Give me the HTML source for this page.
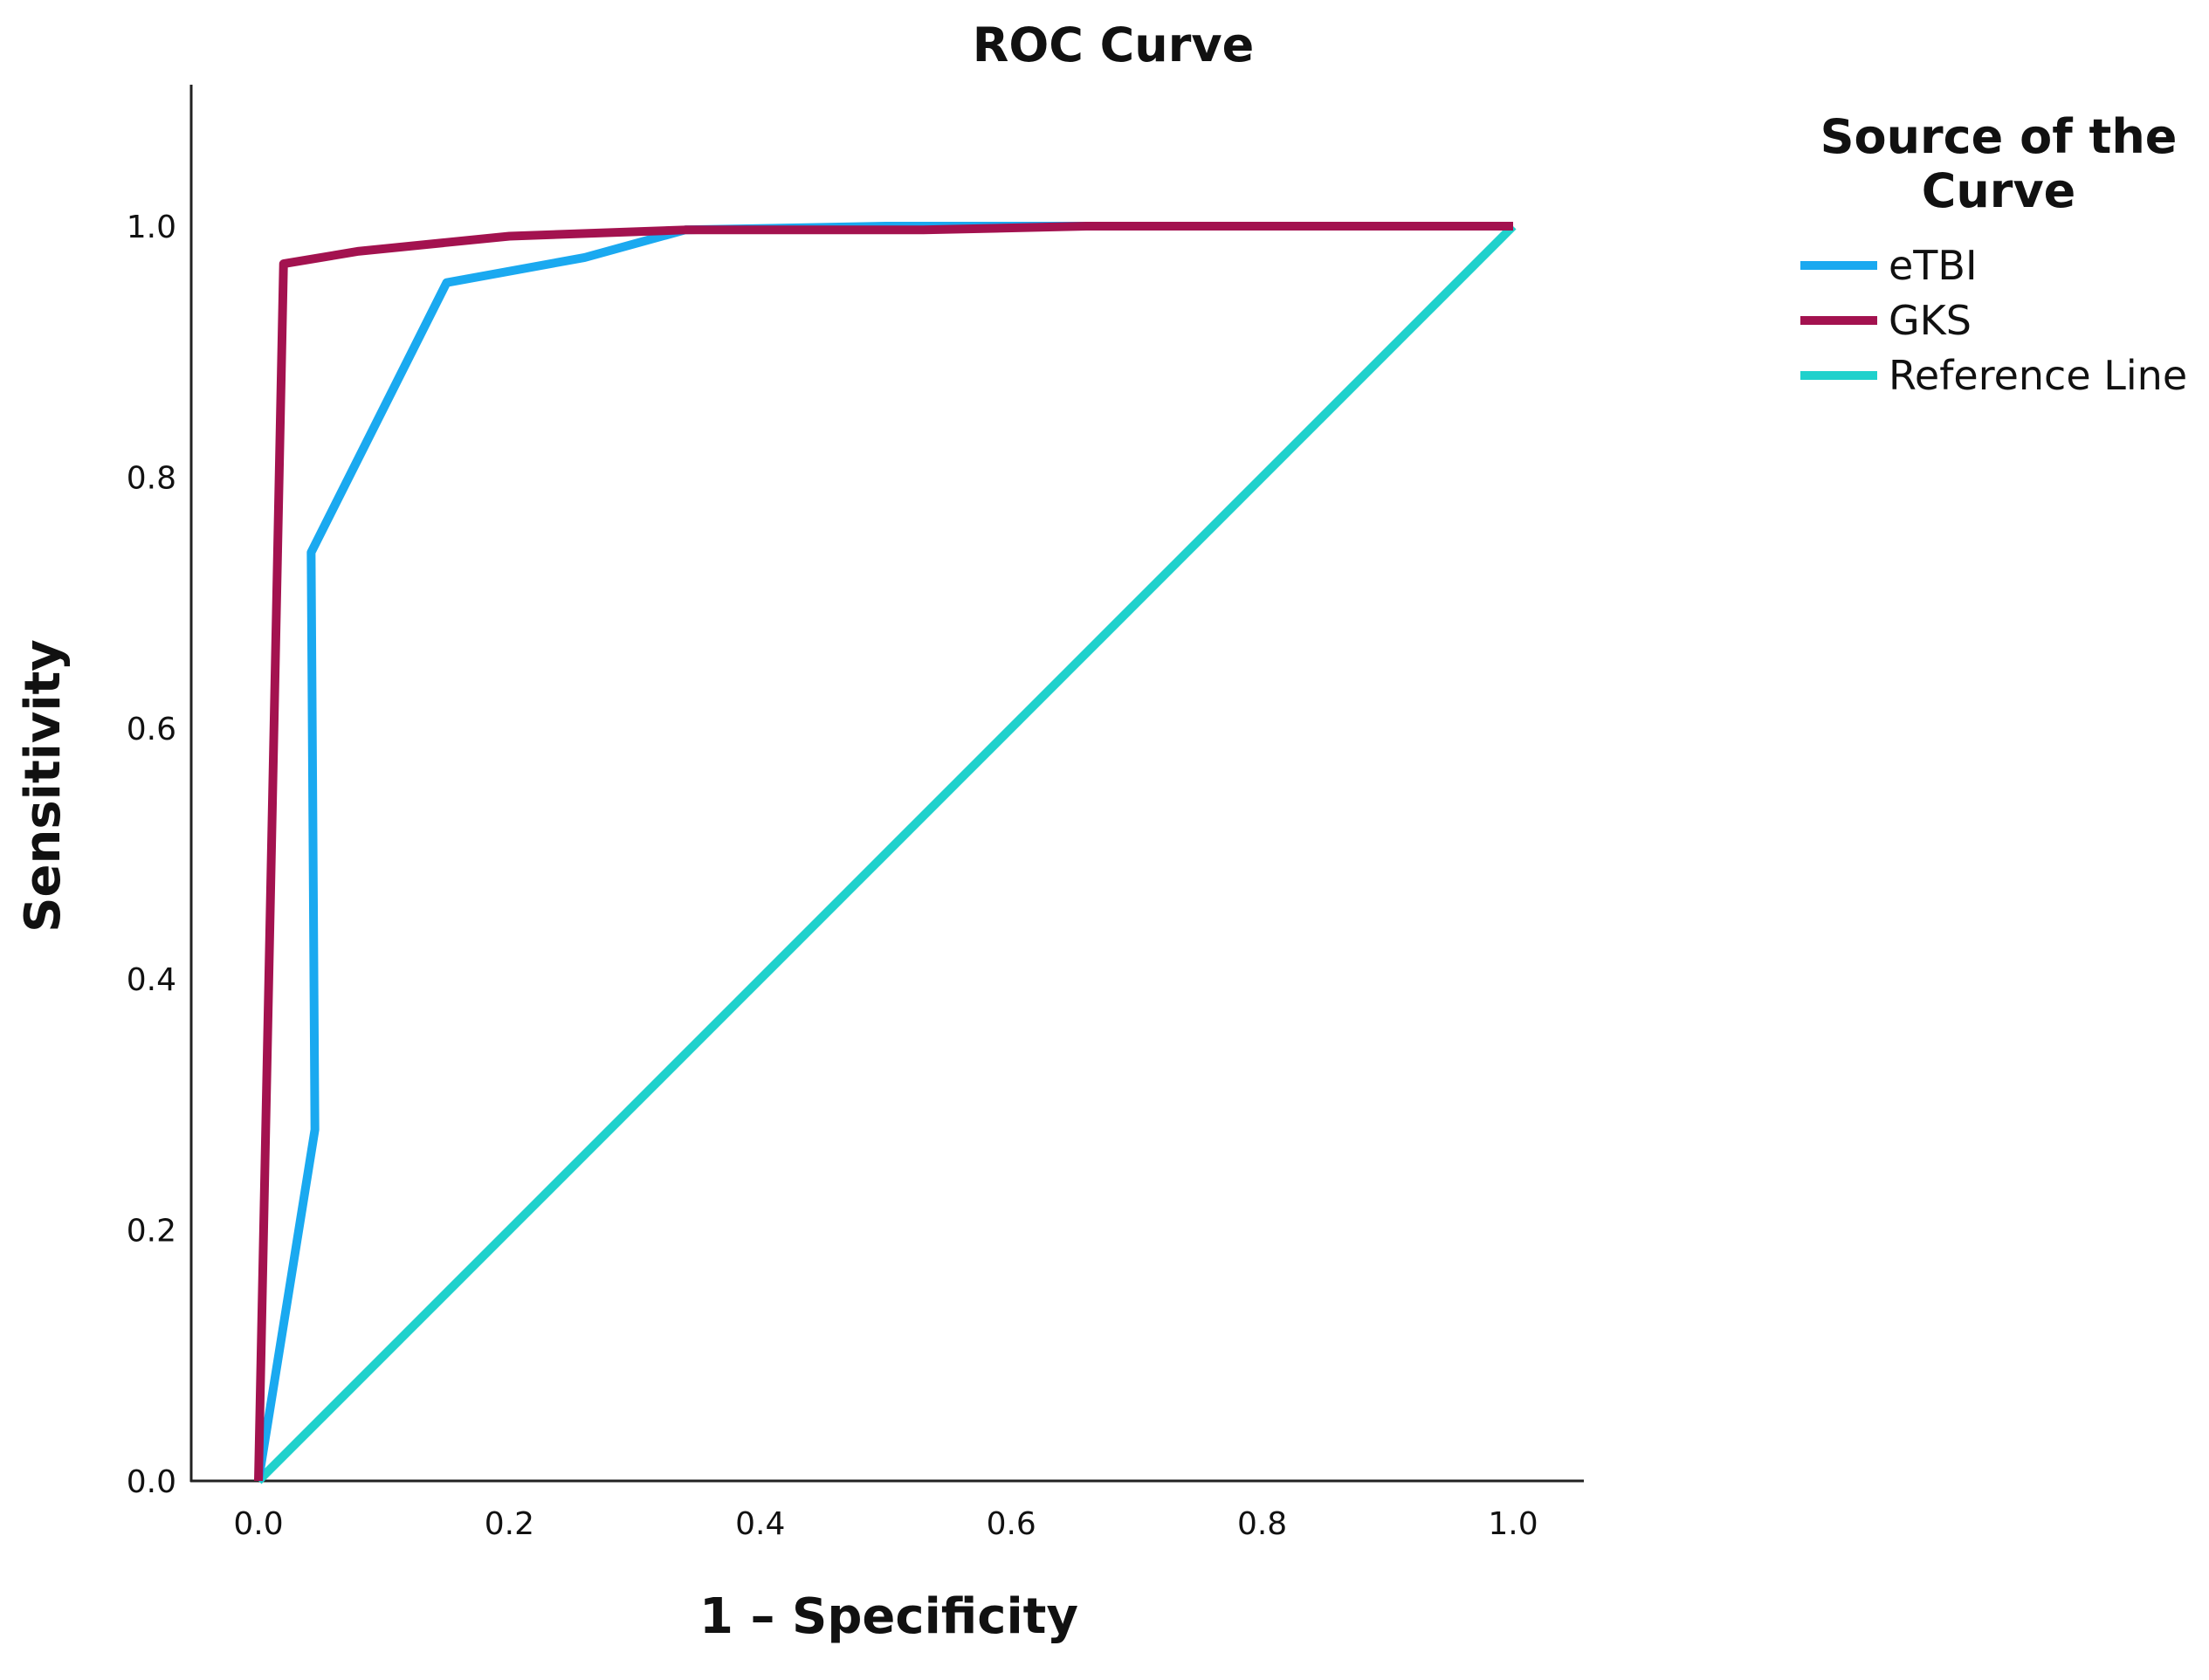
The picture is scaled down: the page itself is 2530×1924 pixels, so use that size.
<!DOCTYPE html>
<html><head><meta charset="utf-8"><style>
body{margin:0;background:#fff;}
svg{display:block;font-family:"DejaVu Sans","Liberation Sans",sans-serif;}
</style></head><body>
<svg id="chart" width="2530" height="1924" viewBox="0 0 2530 1924">
<text x="1275" y="70" font-size="54" font-weight="bold" text-anchor="middle" fill="#111">ROC Curve</text>
<line x1="219" y1="97" x2="219" y2="1697" stroke="#222" stroke-width="3"/>
<line x1="218" y1="1696" x2="1814" y2="1696" stroke="#222" stroke-width="3"/>
<g id="ticks"></g>
<g id="series"></g>
<text x="1018" y="1870" font-size="56" font-weight="bold" text-anchor="middle" fill="#111">1 – Specificity</text>
<text transform="translate(68,900) rotate(-90)" font-size="56" font-weight="bold" text-anchor="middle" fill="#111">Sensitivity</text>
<g>
<text x="2289" y="175" font-size="54" font-weight="bold" text-anchor="middle" fill="#111">Source of the</text>
<text x="2289" y="237" font-size="54" font-weight="bold" text-anchor="middle" fill="#111">Curve</text>
<g><line x1="2062" y1="304" x2="2150" y2="304" stroke="#1aa9f0" stroke-width="10"/><text x="2163" y="320" font-size="46" fill="#111">eTBI</text></g>
<g><line x1="2062" y1="367" x2="2150" y2="367" stroke="#a3124f" stroke-width="10"/><text x="2163" y="383" font-size="46" fill="#111">GKS</text></g>
<g><line x1="2062" y1="430" x2="2150" y2="430" stroke="#1fd1cc" stroke-width="10"/><text x="2163" y="446" font-size="46" fill="#111">Reference Line</text></g>
</g>
</svg>
<script>
const xTicks=[0,0.2,0.4,0.6,0.8,1.0];
const yTicks=[0,0.2,0.4,0.6,0.8,1.0];
const refX=[0,1];
const refY=[0,1];
const etbiX=[0,0.045,0.042,0.15,0.26,0.34,0.5,1];
const etbiY=[0,0.28,0.74,0.955,0.975,0.997,1,1];
const gksX=[0,0.02,0.08,0.2,0.34,0.53,0.66,1];
const gksY=[0,0.97,0.98,0.992,0.997,0.997,1,1];
const NS="http://www.w3.org/2000/svg";
const sx=v=>296+v*(1733-296);
const sy=v=>1696-v*(1696-259);
const tk=document.getElementById('ticks');
xTicks.forEach(t=>{const e=document.createElementNS(NS,'text');e.setAttribute('x',sx(t));e.setAttribute('y',1757);e.setAttribute('font-size','36');e.setAttribute('text-anchor','middle');e.setAttribute('fill','#111');e.textContent=t.toFixed(1);


tk.appendChild(e);});
yTicks.forEach(t=>{const e=document.createElementNS(NS,'text');e.setAttribute('x',202);e.setAttribute('y',sy(t)+13);e.setAttribute('font-size','36');e.setAttribute('text-anchor','end');e.setAttribute('fill','#111');e.textContent=t.toFixed(1);


tk.appendChild(e);});
const sg=document.getElementById('series');
function line(xs,ys,color,name){const p=document.createElementNS(NS,'polyline');p.setAttribute('points',xs.map((x,i)=>sx(x)+','+sy(ys[i])).join(' '));p.setAttribute('fill','none');p.setAttribute('stroke',color);p.setAttribute('stroke-width','10');p.setAttribute('stroke-linejoin','round');


sg.appendChild(p);}
line(refX,refY,'#1fd1cc','reference-line');
line(etbiX,etbiY,'#1aa9f0','etbi-curve');
line(gksX,gksY,'#a3124f','gks-curve');
</script>
</body></html>
